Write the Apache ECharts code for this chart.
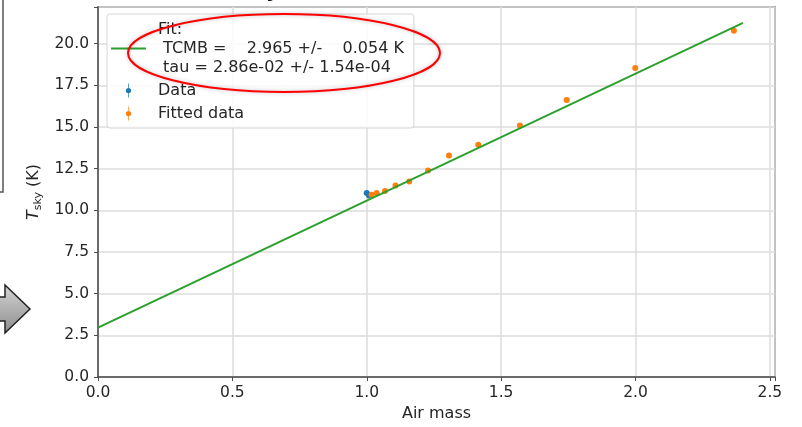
<!DOCTYPE html>
<html lang="en">
<head>
    <meta charset="UTF-8">
    <title>Sky dip fit</title>
    <script src="https://cdn.jsdelivr.net/npm/echarts@6/dist/echarts.min.js"></script>
    <style>
        html, body { margin: 0; padding: 0; background: #fff; }
    </style>
</head>
<body>
<div id="main" style="width: 802px;height:427px;"></div>
<script>
    // measured points (air mass, T_sky)
    var dataAirMass = [1.000, 1.008];
    var dataTsky = [11.05, 10.90];
    var fittedAirMass = [1.018, 1.037, 1.068, 1.107, 1.158, 1.228, 1.306, 1.415, 1.570, 1.744, 1.999, 2.366];
    var fittedTsky = [10.94, 11.04, 11.17, 11.50, 11.73, 12.40, 13.29, 13.93, 15.09, 16.62, 18.54, 20.77];
    // fit line ends
    var fitAirMass = [0, 2.4];
    var fitTsky = [2.965, 21.25];
    var fitText = 'Fit:\n TCMB =    2.965 +/-    0.054 K\n tau = 2.86e-02 +/- 1.54e-04';

    function pairs(xs, ys) {
        var out = [];
        for (var i = 0; i < xs.length; i++) out.push([xs[i], ys[i]]);
        return out;
    }

    var font = 'DejaVu Sans';
    var txt = '#262626';
    var errIcon = 'path://M2.6,0H3.4V16H2.6Z M3,5A3,3 0 1,1 3,11A3,3 0 1,1 3,5Z';

    var myChart = echarts.init(document.getElementById('main'));

    var option = {
        animation: false,
        backgroundColor: '#fff',
        grid: {
            left: 98, right: 27, top: 7, bottom: 46,
            show: true, borderColor: '#4d4d4d', borderWidth: 1.5
        },
        legend: {
            orient: 'vertical',
            left: 107, top: 14,
            padding: [6, 10, 5, 4],
            itemGap: 4,
            itemWidth: 35,
            itemHeight: 14,
            backgroundColor: 'rgba(255,255,255,0.85)',
            borderColor: '#d6d6d6',
            borderWidth: 1,
            borderRadius: 3,
            textStyle: { fontFamily: font, fontSize: 16, lineHeight: 19, color: txt, padding: [0, 0, 0, 7] },
            data: [
                { name: 'Fit', icon: 'path://M0,0H35V2H0Z' },
                { name: 'Data', icon: errIcon },
                { name: 'Fitted data', icon: errIcon }
            ],
            formatter: function (name) {
                return name === 'Fit' ? fitText : name;
            }
        },
        xAxis: {
            type: 'value',
            min: 0, max: 2.519, interval: 0.5,
            name: 'Air mass',
            nameLocation: 'middle',
            nameGap: 28,
            nameTextStyle: { fontFamily: font, fontSize: 16, color: txt },
            axisLine: { show: true, lineStyle: { color: '#4d4d4d', width: 1.5 } },
            axisTick: { show: true, length: 4, lineStyle: { color: '#4d4d4d' } },
            axisLabel: {
                fontFamily: font, fontSize: 15.5, color: txt, margin: 8,
                formatter: function (v) {
                    return Math.abs(v / 0.5 - Math.round(v / 0.5)) < 1e-6 ? v.toFixed(1) : '';
                }
            },
            splitLine: { show: true, lineStyle: { color: '#dcdcdc', width: 1.5 } }
        },
        yAxis: {
            type: 'value',
            min: 0, max: 22.2, interval: 2.5,
            name: '{t|T}{s|sky} (K)',
            nameLocation: 'middle',
            nameRotate: 90,
            nameGap: 53,
            nameTextStyle: {
                fontFamily: font, fontSize: 16, color: txt,
                rich: {
                    t: { fontFamily: font, fontSize: 16, fontStyle: 'italic', color: txt },
                    s: { fontFamily: font, fontSize: 11, color: txt, padding: [8, 0, 0, 0] }
                }
            },
            axisLine: { show: true, lineStyle: { color: '#4d4d4d', width: 1.5 } },
            axisTick: { show: true, length: 4, lineStyle: { color: '#4d4d4d' } },
            axisLabel: {
                fontFamily: font, fontSize: 15.5, color: txt, margin: 9,
                formatter: function (v) {
                    return Math.abs(v / 2.5 - Math.round(v / 2.5)) < 1e-6 ? v.toFixed(1) : '';
                }
            },
            splitLine: { show: true, lineStyle: { color: '#dcdcdc', width: 1.5 } }
        },
        series: [
            {
                name: 'Data',
                type: 'scatter',
                data: pairs(dataAirMass, dataTsky),
                symbolSize: 6,
                itemStyle: { color: '#1f77b4', opacity: 1 },
                z: 3
            },
            {
                name: 'Fitted data',
                type: 'scatter',
                data: pairs(fittedAirMass, fittedTsky),
                symbolSize: 6,
                itemStyle: { color: '#ff7f0e', opacity: 1 },
                z: 3
            },
            {
                name: 'Fit',
                type: 'line',
                data: pairs(fitAirMass, fitTsky),
                showSymbol: false,
                symbol: 'none',
                lineStyle: { color: '#2ca02c', width: 2 },
                itemStyle: { color: '#2ca02c' },
                z: 4
            }
        ],
        graphic: [
            // red highlight ellipse round the fit result
            {
                type: 'ellipse',
                shape: { cx: 284, cy: 53, rx: 156, ry: 39 },
                style: { fill: 'none', stroke: '#f00', lineWidth: 2, shadowBlur: 4, shadowColor: 'rgba(0,0,0,0.25)' },
                z: 100
            },
            // grey arrow at the left edge
            {
                type: 'polygon',
                shape: { points: [[-5, 297], [5, 297], [5, 285], [30, 309], [5, 333], [5, 321], [-5, 321]] },
                style: {
                    fill: new echarts.graphic.LinearGradient(0, 0, 0, 1, [
                        { offset: 0, color: '#d4d4d4' },
                        { offset: 1, color: '#8c8c8c' }
                    ]),
                    stroke: '#222', lineWidth: 1.5
                },
                z: 100
            },
            // edge of a neighbouring box
            {
                type: 'polyline',
                shape: { points: [[3, 0], [3, 192], [-2, 192]] },
                style: { stroke: '#555', lineWidth: 1.5, fill: 'none' },
                z: 100
            },
            // cut-off title glyph
            {
                type: 'text',
                left: 266, top: -18,
                style: { text: 'y', font: 'bold 20px "DejaVu Sans"', fill: '#111' },
                z: 100
            }
        ]
    };
    myChart.setOption(option);
</script>
</body>
</html>
